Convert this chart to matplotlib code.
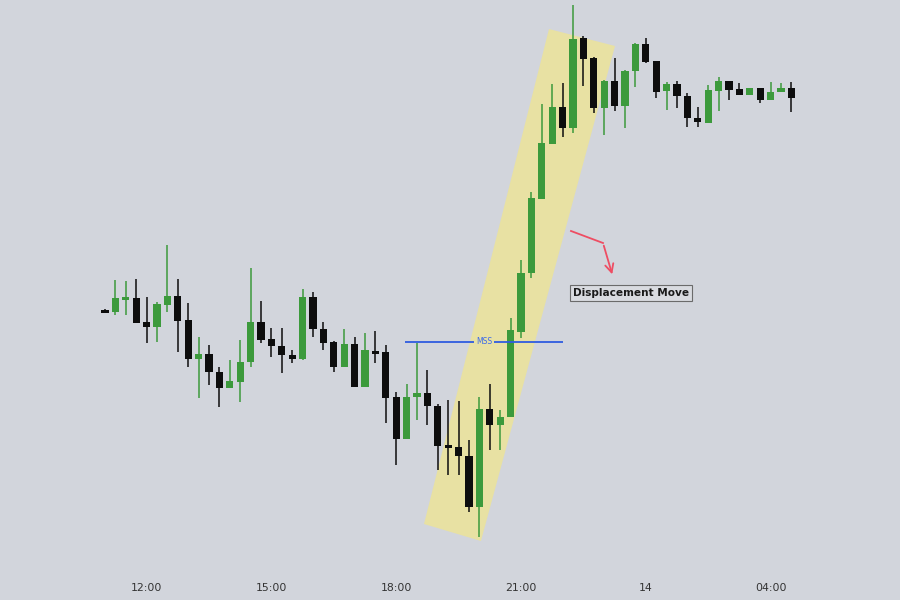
import matplotlib
matplotlib.use('Agg')
import matplotlib.pyplot as plt
import numpy as np
from matplotlib.patches import Polygon

# 15-minute candles, prices (arbitrary units)
opens = [290, 288, 300.5, 302, 278, 273, 295, 304, 280, 241,
         246, 228, 212, 218, 238, 278, 261, 254, 245, 241,
         303, 271, 258, 233, 256, 213, 249, 248, 203, 161,
         203, 207, 194, 155, 153, 144, 93, 191, 175, 183,
         268, 327, 401, 456, 493, 472, 562, 542, 492, 519,
         494, 529, 556, 539, 509, 516, 504, 482, 477, 509,
         519, 511, 505, 512, 500, 508, 512]
highs = [291, 320, 319, 321, 303, 298, 355, 321, 297, 263,
         255, 233, 240, 260, 332, 299, 272, 272, 250, 311,
         308, 278, 259, 271, 263, 267, 269, 255, 208, 216,
         257, 230, 196, 200, 199, 160, 203, 216, 190, 282,
         340, 408, 496, 516, 517, 595, 564, 543, 520, 542,
         530, 557, 562, 539, 518, 519, 507, 493, 515, 523,
         519, 517, 512, 512, 518, 517, 518]
lows = [288, 285, 285, 277, 257, 258, 288, 248, 233, 202,
        215, 193, 212, 198, 233, 257, 243, 227, 237, 240,
        263, 250, 228, 233, 213, 213, 237, 177, 135, 161,
        180, 175, 130, 125, 125, 88, 63, 150, 150, 183,
        262, 322, 401, 456, 463, 467, 514, 487, 465, 489,
        472, 513, 537, 502, 490, 492, 473, 473, 477, 489,
        500, 505, 505, 497, 500, 508, 488]
closes = [288, 302, 301, 277, 273, 296, 304, 279, 241, 246,
          228, 212, 219, 238, 278, 260, 254, 245, 241, 303,
          271, 257, 233, 256, 213, 250, 247, 202, 161, 203,
          207, 194, 154, 152, 144, 93, 191, 175, 183, 270,
          327, 402, 457, 493, 472, 561, 541, 492, 519, 494,
          529, 556, 538, 508, 516, 504, 482, 478, 510, 519,
          510, 505, 512, 500, 508, 512, 502]

tick_pos = [4, 16, 28, 40, 52, 64]
tick_labels = ['12:00', '15:00', '18:00', '21:00', '14', '04:00']

mss_level = 258
mss_span = (28.85, 44.05)

# highlighted band (candle index, price)
band_corners = [(30.67, 76), (36.15, 59), (49.04, 554), (42.69, 571)]

bg = '#d2d5dc'
green = '#3c9a3c'
black = '#0d0d0d'

fig = plt.figure(figsize=(9, 6), dpi=100, facecolor=bg)
ax = fig.add_axes([0, 0, 1, 1])
ax.set_facecolor(bg)
ax.set_xlim(-105 / 10.4, (900 - 105) / 10.4)
ax.set_ylim(0, 600)
ax.axis('off')

ax.add_patch(Polygon(band_corners, closed=True, facecolor='#e8e1a3',
                     edgecolor='none', zorder=1))

x = np.arange(len(opens))
o = np.array(opens, dtype=float)
c = np.array(closes, dtype=float)
up = c >= o
colors = np.where(up, green, black)

ax.vlines(x, lows, highs, colors=colors, linewidth=1.1, zorder=2)
body = np.where(np.abs(c - o) < 2.5, np.sign(c - o + 1e-9) * 2.5, c - o)
ax.bar(x, body, bottom=o, width=0.68, color=colors, zorder=3)

# MSS line with a gap for the label
mid = (mss_span[0] + mss_span[1]) / 2
gap = 1.0
ax.hlines(mss_level, mss_span[0], mid - gap, color='#2f5ce0', linewidth=1.3, zorder=4)
ax.hlines(mss_level, mid + gap, mss_span[1], color='#2f5ce0', linewidth=1.3, zorder=4)
ax.text(mid, mss_level, 'MSS', color='#3d6be8', fontsize=5.5, ha='center',
        va='center', zorder=5)

# red arrow pointing at the label
ax.plot([(571 - 105) / 10.4, (603 - 105) / 10.4], [600 - 231, 600 - 243],
        color='#ee4d63', linewidth=1.3, zorder=5)
ax.annotate('', xy=((613 - 105) / 10.4, 600 - 277),
            xytext=((603 - 105) / 10.4, 600 - 243),
            arrowprops=dict(arrowstyle='->', color='#ee4d63', lw=1.3,
                            mutation_scale=15), zorder=5)

ax.text((631 - 105) / 10.4, 600 - 293, 'Displacement Move', fontsize=7.6,
        fontweight='bold', color='#1a1a1a', ha='center', va='center', zorder=6,
        bbox=dict(boxstyle='square,pad=0.3', facecolor='#d9dbe0',
                  edgecolor='#6b6b6b', linewidth=0.8))

for pos, lab in zip(tick_pos, tick_labels):
    ax.text(pos, 600 - 588, lab, fontsize=7.8, color='#333333',
            ha='center', va='center')

fig.savefig('out.png', dpi=100, facecolor=bg)
